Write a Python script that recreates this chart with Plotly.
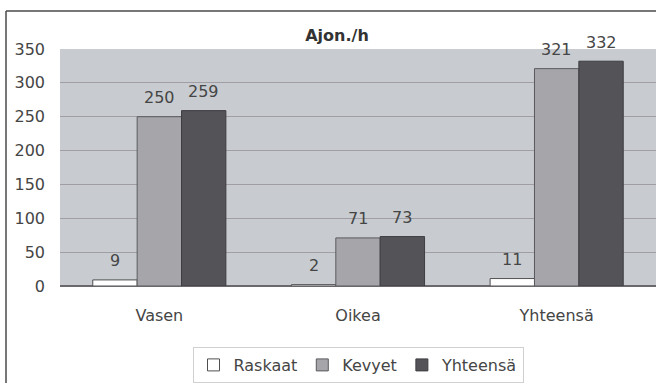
import plotly.graph_objects as go

# Traffic volumes, vehicles per hour
categories = ["Vasen", "Oikea", "Yhteensä"]
series_names = ["Raskaat", "Kevyet", "Yhteensä"]
raskaat = [9, 2, 11]
kevyet = [250, 71, 321]
yhteensa = [259, 73, 332]
y_ticks = [0, 50, 100, 150, 200, 250, 300, 350]

values = [raskaat, kevyet, yhteensa]
fills = ["#ffffff", "#a6a5aa", "#545358"]
outlines = ["#505050", "#5a5a5e", "#3e3d42"]

W, H = 656, 383
M_L, M_R, M_T, M_B = 60, 0, 49, 97
BARGAP = 0.33
FONT = "DejaVu Sans, Verdana, sans-serif"
TXT = "#454545"

fig = go.Figure()
for name, vals, fc, lc in zip(series_names, values, fills, outlines):
    fig.add_trace(go.Bar(
        name=name, x=categories, y=vals,
        marker=dict(color=fc, line=dict(color=lc, width=1)),
    ))

# value labels above each bar, offset by the bar's slot in its group
plot_w = W - M_L - M_R
bar_px = plot_w / len(categories) * (1 - BARGAP) / len(series_names)
for i, vals in enumerate(values):
    for cat, v in zip(categories, vals):
        fig.add_annotation(
            x=cat, y=v, xref="x", yref="y", text=str(v), showarrow=False,
            xshift=(i - 1) * bar_px, yshift=19, yanchor="middle",
            font=dict(family=FONT, size=16, color=TXT),
        )

# frame around the chart
left = (6 - M_L) / plot_w
top = (H - M_B - 11) / (H - M_T - M_B)
fig.add_shape(type="line", xref="paper", yref="paper", x0=left, x1=1.05, y0=top, y1=top,
              line=dict(color="#4a4a4a", width=1.5))
fig.add_shape(type="line", xref="paper", yref="paper", x0=left, x1=left, y0=top, y1=-1,
              line=dict(color="#4a4a4a", width=1.5))

fig.update_layout(
    width=W, height=H,
    margin=dict(l=M_L, r=M_R, t=M_T, b=M_B),
    barmode="group", bargap=BARGAP, bargroupgap=0,
    paper_bgcolor="white", plot_bgcolor="#c8ccd0",
    font=dict(family=FONT, size=16, color=TXT),
    title=dict(text="<b>Ajon./h</b>", x=337 / W, xanchor="center", y=1 - 35 / H, yanchor="middle",
               font=dict(family=FONT, size=16, color="#333333")),
    showlegend=True,
    legend=dict(orientation="h", x=0.5, xanchor="center", y=-(347 - (H - M_B)) / (H - M_T - M_B),
                yanchor="top", bordercolor="#d0d0d0", borderwidth=1, bgcolor="white",
                font=dict(family=FONT, size=16, color=TXT), itemwidth=30, tracegroupgap=0),
    xaxis=dict(showgrid=False, showline=False, ticks="", ticklabelstandoff=18,
               tickfont=dict(family=FONT, size=16, color=TXT)),
    yaxis=dict(range=[0, 350], tickvals=y_ticks, showgrid=True, gridcolor="#a19da4", gridwidth=1,
               zeroline=True, zerolinecolor="#6a686c", zerolinewidth=1.5,
               ticks="", ticklabelstandoff=14, tickfont=dict(family=FONT, size=16, color=TXT)),
)

fig.write_html("out.html")
